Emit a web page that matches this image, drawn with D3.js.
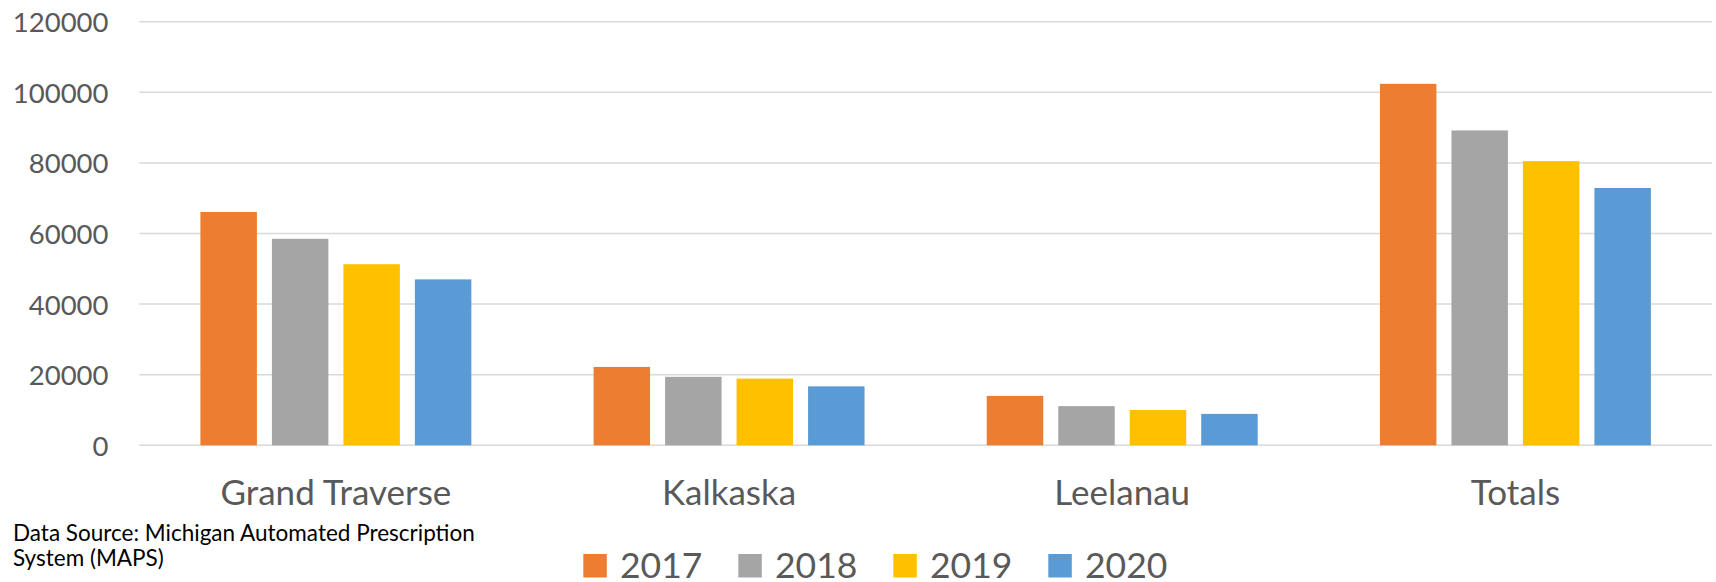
<!DOCTYPE html>
<html>
<head>
<meta charset="utf-8">
<script src="https://cdn.jsdelivr.net/npm/d3@7"></script>
<style>
  html, body { margin: 0; padding: 0; background: #fff; }
  svg { display: block; }
</style>
</head>
<body>
<svg id="chart" width="1716" height="582"></svg>
<script>
const categories = ["Grand Traverse", "Kalkaska", "Leelanau", "Totals"];
const years = ["2017", "2018", "2019", "2020"];
const values2017 = [66100, 22200, 14000, 102400];
const values2018 = [58500, 19400, 11100, 89200];
const values2019 = [51300, 18900, 10000, 80500];
const values2020 = [47000, 16700, 8900, 72900];
const yTicks = [0, 20000, 40000, 60000, 80000, 100000, 120000];
const colors = ["#ED7D31", "#A5A5A5", "#FFC000", "#5B9BD5"];
const sourceLines = ["Data Source: Michigan Automated Prescription", "System (MAPS)"];

const seriesValues = [values2017, values2018, values2019, values2020];
const FONT = "Lato, 'Open Sans', sans-serif";

const svg = d3.select("#chart");
const plotLeft = 139.3, plotRight = 1712, plotTop = 21.7, plotBottom = 445.3;

const y = d3.scaleLinear().domain([0, 120000]).range([plotBottom, plotTop]);
const x0 = d3.scaleBand().domain(categories).range([plotLeft, plotRight]).paddingInner(0).paddingOuter(0);
const x1 = d3.scaleBand().domain(years).range([0, x0.bandwidth()]).paddingInner(0.21).paddingOuter(0.855);
const color = d3.scaleOrdinal().domain(years).range(colors);

// gridlines
svg.append("g").selectAll("line").data(yTicks).join("line")
  .attr("x1", plotLeft).attr("x2", plotRight)
  .attr("y1", d => y(d)).attr("y2", d => y(d))
  .attr("stroke", "#D9D9D9").attr("stroke-width", 1.5);

// y axis labels
const yAxis = d3.axisLeft(y).tickValues(yTicks).tickSize(0).tickPadding(0).tickFormat(d3.format("d"));
const gy = svg.append("g").attr("transform", "translate(108.5,0)").call(yAxis);
gy.select(".domain").remove();
gy.selectAll("text")
  .attr("font-family", FONT).attr("font-size", 27.5).attr("fill", "#595959")
  .attr("dy", "0.36em");

// bars
const groups = svg.append("g").selectAll("g").data(categories).join("g")
  .attr("transform", d => `translate(${x0(d)},0)`);
groups.selectAll("rect")
  .data((c, i) => years.map((yr, j) => ({ yr, v: seriesValues[j][i] })))
  .join("rect")
  .attr("x", d => x1(d.yr))
  .attr("width", x1.bandwidth())
  .attr("y", d => y(d.v))
  .attr("height", d => y(0) - y(d.v))
  .attr("fill", d => color(d.yr));

// category labels
const xAxis = d3.axisBottom(x0).tickSize(0).tickPadding(0);
const gx = svg.append("g").attr("transform", "translate(0,505)").call(xAxis);
gx.select(".domain").remove();
gx.selectAll("text")
  .attr("font-family", FONT).attr("font-size", 35).attr("fill", "#595959")
  .attr("dy", 0).attr("y", 0);

// source note
svg.append("text")
  .attr("font-family", FONT).attr("font-size", 22.5).attr("fill", "#000")
  .selectAll("tspan").data(sourceLines).join("tspan")
  .attr("x", 13).attr("y", (d, i) => 541 + i * 25)
  .text(d => d);

// legend
const legend = svg.append("g").selectAll("g").data(years).join("g")
  .attr("transform", (d, i) => `translate(${583.3 + i * 155},0)`);
legend.append("rect")
  .attr("x", 0).attr("y", 554).attr("width", 23.5).attr("height", 23.5)
  .attr("fill", d => color(d));
legend.append("text")
  .attr("x", 36.7).attr("y", 577.7)
  .attr("font-family", FONT).attr("font-size", 35.5).attr("fill", "#595959")
  .text(d => d);
</script>
</body>
</html>
